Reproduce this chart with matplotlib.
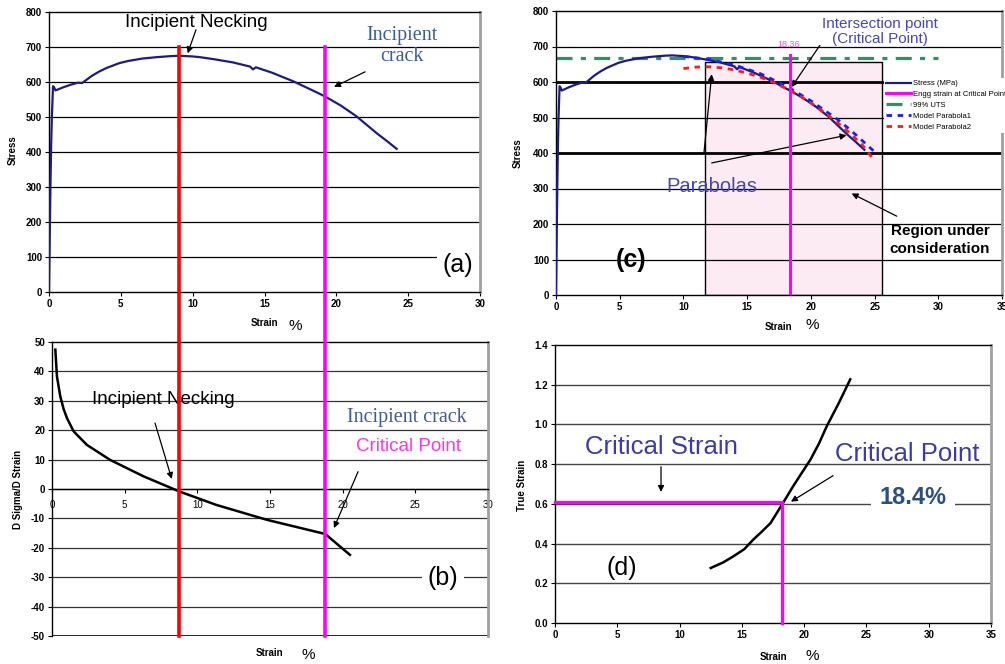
import numpy as np
import matplotlib.pyplot as plt
from matplotlib.lines import Line2D
from matplotlib.patches import Rectangle

plt.rcParams['font.family'] = ['Liberation Sans', 'DejaVu Sans']
plt.rcParams['axes.unicode_minus'] = False

# engineering stress-strain curve (panels a and c)
strain = [0, 0.05, 0.1, 0.15, 0.2, 0.28, 0.35, 0.45, 0.7, 1.0, 1.5, 2.0, 2.3, 2.6, 3.0,
          3.5, 4.0, 4.9, 5.5, 6.5, 7.5, 8.5, 9.1, 10.0, 10.5, 11.5, 12.8, 14.0, 14.2,
          14.4, 15.5, 17.0, 18.4, 19.2, 20.3, 21.4, 22.8, 23.5, 24.2]
stress = [0, 150, 300, 420, 500, 588, 585, 576, 580, 585, 592, 598, 597, 606, 618,
          630, 640, 654, 660, 667, 671, 674, 675, 673, 671, 665, 656, 644, 636,
          642, 627, 602, 575, 559, 533, 502, 454, 432, 409]

# model parabolas (panel c)
p1_strain = [10, 12, 14, 16, 18, 20, 22, 23, 24, 25.1]
p1_stress = [672, 664, 648, 624, 590, 547, 497, 468, 436, 400]
p2_strain = [10, 11, 12, 13, 14, 15, 16, 17, 18, 19, 20, 21, 22, 23, 24, 24.9]
p2_stress = [638, 642, 643, 640, 634, 625, 614, 600, 583, 564, 541, 516, 488, 458, 424, 383]
uts99 = 668
crit_strain = 18.36
region = (11.7, 25.55, 657)

# d sigma / d strain (panel b)
ds_strain = [0.23, 0.34, 0.57, 0.8, 1.03, 1.49, 2.4, 4.0, 6.3, 8.77, 11.3, 14.8, 18.8, 20.5]
ds_val = [47.4, 38.3, 31.5, 27.2, 24.1, 19.6, 15.0, 9.9, 4.3, -0.85, -5.4, -10.5, -15.3, -22.4]

# true strain (panel d)
ts_strain = [12.5, 13.5, 14.3, 15.2, 15.9, 16.6, 17.3, 18.3, 19.1, 19.8, 20.5, 21.2, 21.8, 22.8, 23.7]
ts_val = [0.277, 0.305, 0.335, 0.372, 0.419, 0.46, 0.503, 0.604, 0.687, 0.755, 0.822, 0.905, 0.989, 1.11, 1.227]
crit_true = 0.61
crit_d = 18.2

necking_x = 9.05
crack_x = 19.2

W, H = 1005, 664
fig = plt.figure(figsize=(W / 100, H / 100), dpi=100)


def box(l, t, r, b):
    return [l / W, 1 - b / H, (r - l) / W, (b - t) / H]


ax_a = fig.add_axes(box(49, 12, 480, 292))
ax_b = fig.add_axes(box(52, 342, 488, 636))
ax_c = fig.add_axes(box(556, 11, 1002, 295))
ax_d = fig.add_axes(box(555, 345, 991, 623))


def style(ax, xmax, ymin, ymax, ystep, xlab_pos, ylab, ylab_pos, fmt=None):
    ax.set_xlim(0, xmax)
    ax.set_ylim(ymin, ymax)
    ax.set_xticks(np.arange(0, xmax + 0.1, 5))
    yt = np.arange(ymin, ymax + ystep / 2, ystep)
    ax.set_yticks(yt)
    if fmt:
        ax.set_yticklabels([fmt % v for v in yt])
    for s in ['left', 'bottom', 'top']:
        ax.spines[s].set_color('black')
        ax.spines[s].set_linewidth(1)
    ax.spines['right'].set_color('#a0a0a0')
    ax.spines['right'].set_linewidth(2)
    ax.tick_params(labelsize=7, length=3, width=0.8, pad=2)
    for lab in ax.get_xticklabels() + ax.get_yticklabels():
        lab.set_fontweight('bold')
    ax.text(xlab_pos[0], xlab_pos[1], 'Strain', transform=ax.transAxes, fontsize=7,
            fontweight='bold', ha='center', va='center')
    ax.text(xlab_pos[2], xlab_pos[3], '%', transform=ax.transAxes, fontsize=11,
            ha='center', va='center')
    ax.text(ylab_pos[0], ylab_pos[1], ylab, transform=ax.transAxes, fontsize=7,
            fontweight='bold', rotation=90, ha='center', va='center')


arrow = dict(arrowstyle='-|>', color='black', lw=0.9, mutation_scale=9, shrinkA=0, shrinkB=0)

# ---------------- (a)
ax = ax_a
style(ax, 30, 0, 800, 100, (0.501, -0.111, 0.571, -0.121), 'Stress', (-0.084, 0.507))
for v in range(100, 800, 100):
    ax.axhline(v, color='black', lw=0.9, zorder=1)
ax.plot(strain, stress, color='#1c1c82', lw=1.6, zorder=3)
ax.text(10.23, 769, 'Incipient Necking', fontsize=13.5, ha='center', va='center')
ax.annotate('', xy=(9.65, 682), xytext=(10.23, 749), arrowprops=arrow)
ax.text(24.57, 703, 'Incipient\ncrack', fontsize=14.5, family='Liberation Serif',
        color='#3b5d97', ha='center', va='center', linespacing=1.15)
ax.annotate('', xy=(19.84, 586), xytext=(22.0, 629), arrowprops=arrow)
ax.text(28.47, 77, '(a)', fontsize=18, ha='center', va='center', zorder=5,
        bbox=dict(facecolor='white', edgecolor='none', pad=4))

# ---------------- (b)
ax = ax_b
style(ax, 30, -50, 50, 10, (0.498, -0.058, 0.587, -0.065), 'D Sigma/D Strain', (-0.078, 0.497))
ax.spines['bottom'].set_position(('data', 0))
ax.tick_params(axis='x', pad=5)
for v in range(-40, 50, 10):
    ax.axhline(v, color='#333333', lw=0.9, zorder=1)
ax.axhline(-50, color='black', lw=1.2, zorder=2)
ax.plot(ds_strain, ds_val, color='black', lw=1.8, zorder=3)
ax.text(7.64, 30.3, 'Incipient Necking', fontsize=13.5, ha='center', va='center', zorder=4)
ax.annotate('', xy=(8.24, 3.4), xytext=(7.09, 22.4), arrowprops=arrow)
ax.text(24.4, 24.3, 'Incipient crack', fontsize=14.5, family='Liberation Serif',
        color='#3b5d97', ha='center', va='center', zorder=5,
        bbox=dict(facecolor='white', edgecolor='none', pad=1))
ax.text(24.5, 14.4, 'Critical Point', fontsize=13.5, color='#ff33ee', ha='center',
        va='center', zorder=5, bbox=dict(facecolor='white', edgecolor='none', pad=1))
ax.annotate('', xy=(19.4, -13.3), xytext=(21.06, 5.9), arrowprops=arrow)
ax.text(26.9, -30.2, '(b)', fontsize=18, ha='center', va='center', zorder=5,
        bbox=dict(facecolor='white', edgecolor='none', pad=4))

# long vertical markers across (a) and (b)
fig.canvas.draw()
inv = fig.transFigure.inverted()
y_bot = ax_b.get_position().y0
for xv, col in [(necking_x, '#ff0000'), (crack_x, '#ff00ff')]:
    xf, yf = inv.transform(ax_a.transData.transform((xv, 700)))
    fig.add_artist(Line2D([xf, xf], [y_bot, yf], transform=fig.transFigure,
                          color=col, lw=2.6, zorder=6))

# ---------------- (c)
ax = ax_c
style(ax, 35, 0, 800, 100, (0.498, -0.111, 0.574, -0.106), 'Stress', (-0.085, 0.5))
for v in range(100, 800, 100):
    ax.axhline(v, color='black', lw=2.0 if v in (400, 600) else 0.9, zorder=1)
ax.add_patch(Rectangle((region[0], 0), region[1] - region[0], region[2],
                       facecolor='#fdebf3', edgecolor='black', lw=1, zorder=0.5))
l_uts, = ax.plot([0, 30], [uts99, uts99], color='#2a9462', lw=2.3,
                 linestyle=(0, (5, 2.6, 1.6, 2.6)), zorder=2)
l_st, = ax.plot(strain, stress, color='#1c1c82', lw=1.6, zorder=3)
l_p1, = ax.plot(p1_strain, p1_stress, color='#1a1aff', lw=2, linestyle=(0, (2, 2)), zorder=4)
l_p2, = ax.plot(p2_strain, p2_stress, color='#ff1a1a', lw=2, linestyle=(0, (2, 2)), zorder=4)
l_cr, = ax.plot([crit_strain, crit_strain], [0, 677], color='#ff00ff', lw=2.2, zorder=5)
ax.text(18.23, 705, '%.2f' % crit_strain, fontsize=6.5, color='#ff44ee', ha='center', va='center')
ax.legend([l_st, l_cr, l_uts, l_p1, l_p2],
          ['Stress (MPa)', 'Engg strain at Critical Point', '99% UTS',
           'Model Parabola1', 'Model Parabola2'],
          loc='upper left', bbox_to_anchor=(0.735, 0.765), fontsize=5.5,
          frameon=True, framealpha=1, facecolor='white', edgecolor='none',
          fancybox=False, borderpad=0.3, handlelength=3.2, handletextpad=0.3,
          labelspacing=0.45, borderaxespad=0)
ax.text(25.43, 741, 'Intersection point\n(Critical Point)', fontsize=11, color='#4646c0',
        ha='center', va='center', linespacing=1.1)
ax.annotate('', xy=(18.5, 586), xytext=(20.7, 703), arrowprops=arrow)
ax.text(12.22, 305, 'Parabolas', fontsize=14.5, color='#4646b4', ha='center', va='center')
ax.annotate('', xy=(12.22, 622), xytext=(11.61, 400), arrowprops=arrow)
ax.annotate('', xy=(22.8, 450), xytext=(12.22, 372), arrowprops=arrow)
ax.text(30.13, 155, 'Region under\nconsideration', fontsize=11, fontweight='bold',
        ha='center', va='center', linespacing=1.3)
ax.annotate('', xy=(23.2, 286), xytext=(26.74, 222), arrowprops=arrow)
ax.text(5.86, 98, '(c)', fontsize=18, fontweight='bold', ha='center', va='center')

# ---------------- (d)
ax = ax_d
style(ax, 35, 0, 1.4, 0.2, (0.5, -0.121, 0.59, -0.119), 'True Strain', (-0.076, 0.496), fmt='%.1f')
for v in np.arange(0.2, 1.3, 0.2):
    ax.axhline(v, color='#444444', lw=1, zorder=1)
ax.plot(ts_strain, ts_val, color='black', lw=1.8, zorder=3)
ax.plot([0, crit_d, crit_d], [crit_true, crit_true, 0], color='#ff00ff', lw=2.4,
        zorder=4, clip_on=False)
ax.text(8.51, 0.888, 'Critical Strain', fontsize=18.5, color='#3c3ca8', ha='center', va='center')
ax.annotate('', xy=(8.51, 0.66), xytext=(8.51, 0.787), arrowprops=arrow)
ax.text(28.26, 0.851, 'Critical Point', fontsize=18.5, color='#3c3ca8', ha='center', va='center')
ax.text(28.74, 0.631, '18.4%', fontsize=17, fontweight='bold', color='#2a4f80',
        ha='center', va='center', zorder=5,
        bbox=dict(facecolor='white', edgecolor='none', pad=6))
ax.annotate('', xy=(18.94, 0.611), xytext=(22.32, 0.742), arrowprops=arrow)
ax.text(5.38, 0.277, '(d)', fontsize=18, ha='center', va='center')

fig.savefig('out.png', dpi=100)
